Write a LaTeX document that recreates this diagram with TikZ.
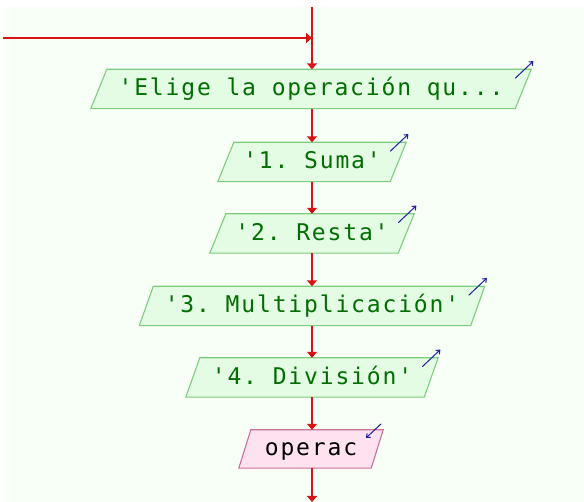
\documentclass[tikz,border=0pt]{standalone}
\usepackage{fontspec}
\setmonofont[LetterSpace=8]{DejaVu Sans Mono}
\usetikzlibrary{arrows.meta}

\definecolor{sheet}{RGB}{247,255,247}
\definecolor{iofill}{RGB}{228,252,228}
\definecolor{ioline}{RGB}{125,205,125}
\definecolor{iotext}{RGB}{0,110,0}
\definecolor{infill}{RGB}{255,226,240}
\definecolor{inline}{RGB}{205,110,150}
\definecolor{flowred}{RGB}{215,20,20}
\definecolor{notenavy}{RGB}{30,30,165}

\pgfdeclarelayer{paper}
\pgfdeclarelayer{frames}
\pgfsetlayers{paper,frames,main}

% slanted input/output frame around a node: #1 node, #2 half slant, #3 fill, #4 line
\newcommand\slantframe[4]{%
  \begin{pgfonlayer}{frames}
    \filldraw[fill=#3,draw=#4,line width=1.1pt,line join=miter]
      ([xshift=#2]#1.north west) -- ([xshift=#2]#1.north east)
      -- ([xshift=-#2]#1.south east) -- ([xshift=-#2]#1.south west) -- cycle;
  \end{pgfonlayer}}

\tikzset{
  iobox/.style={inner sep=0pt,minimum height=39pt,text height=17pt,text depth=3pt,
    font=\ttfamily\fontsize{23}{26}\selectfont,text=iotext},
  inbox/.style={iobox,text=black},
  flow/.style={draw=flowred,line width=1.5pt,
    -{Triangle[length=6pt,width=10pt]}},
  note/.style={draw=notenavy,line width=1pt,-{To[length=4pt,width=6pt]}}
}

\begin{document}
\begin{tikzpicture}[x=1pt,y=-1pt]
\useasboundingbox (0,0) rectangle (584,502);
\begin{pgfonlayer}{paper}
  \fill[white] (0,0) rectangle (584,502);
  \fill[sheet] (3,7) rectangle (584,502);
\end{pgfonlayer}

% output statements
\node[iobox,minimum width=424pt] (b1) at (311,89)  {'Elige la operación qu...};
\node[iobox,minimum width=172pt] (b2) at (312,162) {'1. Suma'};
\node[iobox,minimum width=188pt] (b3) at (312,233.5) {'2. Resta'};
\node[iobox,minimum width=331pt] (b4) at (312,306) {'3. Multiplicación'};
\node[iobox,minimum width=238pt] (b5) at (312,377.5) {'4. División'};
% input statement
\node[inbox,minimum width=132pt,minimum height=38pt] (b6) at (311,449) {operac};

\slantframe{b1}{8pt}{iofill}{ioline}
\slantframe{b2}{8pt}{iofill}{ioline}
\slantframe{b3}{8pt}{iofill}{ioline}
\slantframe{b4}{7pt}{iofill}{ioline}
\slantframe{b5}{7pt}{iofill}{ioline}
\slantframe{b6}{6pt}{infill}{inline}

% flow lines
\coordinate (top)   at (312,7);
\coordinate (entry) at (3,38);
\coordinate (join)  at (312,38);
\coordinate (exit)  at (312,502);
\draw[flow] (entry) -- (join);
\draw[flow] (top) -- (b1.north -| top);
\draw[flow] (b1.south -| top) -- (b2.north -| top);
\draw[flow] (b2.south -| top) -- (b3.north -| top);
\draw[flow] (b3.south -| top) -- (b4.north -| top);
\draw[flow] (b4.south -| top) -- (b5.north -| top);
\draw[flow] (b5.south -| top) -- (b6.north -| top);
\draw[flow] (b6.south -| top) -- (exit);

% output / input markers
\foreach \b/\s in {b1/8,b2/8,b3/8,b4/7,b5/7}
  \draw[note] ([shift={(\s-16,9)}]\b.north east) -- ([shift={(\s+2,-8)}]\b.north east);
\draw[note] ([shift={(4,-6)}]b6.north east) -- ([shift={(-11,8)}]b6.north east);
\end{tikzpicture}
\end{document}
